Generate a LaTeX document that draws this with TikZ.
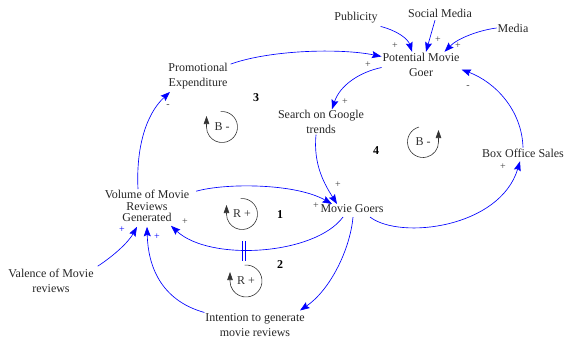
\documentclass[tikz,border=0pt]{standalone}
\usepackage{fontspec}
\setmainfont{Liberation Serif}
\usetikzlibrary{arrows.meta}
\begin{document}
\begin{tikzpicture}[x=1pt,y=-1pt,
  var/.style={inner sep=1pt, outer sep=0pt, align=center, text=black!85, font=\fontsize{12}{15}\selectfont},
  link/.style={draw=blue, line width=0.65pt, -{Stealth[length=9.5pt,width=7pt,inset=1.5pt]}},
  pol/.style={inner sep=0pt, text=black!75, font=\fontsize{10}{10}\selectfont},
  bpol/.style={pol, text=blue},
  loopl/.style={inner sep=0pt, text=black!80, font=\fontsize{12}{12}\selectfont},
  looparc/.style={draw=black!80, line width=0.6pt, -{Triangle[length=8pt,width=5.5pt]}},
  num/.style={inner sep=0pt, text=black, font=\fontsize{12}{12}\selectfont\bfseries},
  delaymark/.style={draw=blue, line width=0.6pt}
]
\useasboundingbox (0,0) rectangle (564,341);

% variables
\node[var] (pub) at (356,18) {Publicity};
\node[var] (soc) at (440,13) {Social Media};
\node[var] (med) at (513,28) {Media};
\node[var] (pmg) at (421,64.5) {Potential Movie\\Goer};
\node[var] (pe) at (198,76) {Promotional\\Expenditure};
\node[var] (sg) at (321,122) {Search on Google\\trends};
\node[var] (bos) at (523,153) {Box Office Sales};
\node[var, font=\fontsize{12}{11.5}\selectfont] (vol) at (147,206) {Volume of Movie\\Reviews\\Generated};
\node[var] (mg) at (352,209) {Movie Goers};
\node[var] (val) at (51,281) {Valence of Movie\\reviews};
\node[var] (int) at (255,325) {Intention to generate\\movie reviews};

% links
\draw[link] ([xshift=2pt,yshift=-2pt]pub.south east) .. controls (398,31) and (408,39) .. ([xshift=-9pt]pmg.north);
\draw[link] ([xshift=-5pt,yshift=-2pt]soc.south) -- ([xshift=5pt]pmg.north);
\draw[link] (med.west) .. controls (480,30) and (458,38) .. ([xshift=-16pt]pmg.north east);
\draw[link] ([xshift=2pt,yshift=-2pt]pe.north east) .. controls (270,50) and (340,48) .. ([yshift=8pt]pmg.west);
\draw[link] ([yshift=-3pt]pmg.west) .. controls (360,72) and (340,85) .. ([xshift=11pt]sg.north);
\draw[link] (bos.north) .. controls (522,110) and (495,82) .. ([xshift=1pt,yshift=-5pt]pmg.east);
\draw[link] ([xshift=-5pt]sg.south) .. controls (313,165) and (325,185) .. ([xshift=-15pt]mg.north);
\draw[link] ([xshift=6pt,yshift=-2pt]vol.north east) .. controls (225,183) and (295,183) .. ([xshift=-20pt]mg.north);
\draw[link] ([xshift=-9pt,yshift=-3pt]mg.south) .. controls (315,255) and (210,262) .. ([xshift=24pt,yshift=-3pt]vol.south);
\draw[link] ([xshift=18pt,yshift=-3pt]mg.south) .. controls (400,240) and (500,228) .. ([xshift=-3pt,yshift=-3pt]bos.south);
\draw[link] ([xshift=-9pt]vol.north) .. controls (136,150) and (145,115) .. ([xshift=-28pt,yshift=-2pt]pe.south);
\draw[link] ([xshift=1pt,yshift=-3pt]mg.south) .. controls (350,250) and (330,290) .. ([xshift=45pt,yshift=2pt]int.north);
\draw[link] (int.north west) .. controls (160,300) and (148,265) .. ([yshift=-4pt]vol.south);
\draw[link] ([xshift=3pt,yshift=2pt]val.north east) .. controls (112,257) and (128,243) .. ([xshift=-10pt,yshift=-4pt]vol.south);

% delay mark
\draw[delaymark] (242.5,241) -- (242.5,261);
\draw[delaymark] (245.5,241) -- (245.5,261);

% polarities
\node[pol] (p1) at (395,46) {+};
\node[pol] (p2) at (438,40) {+};
\node[pol] (p3) at (458,46) {+};
\node[pol] (p4) at (368,65) {+};
\node[pol] (p5) at (345,102) {+};
\node[pol] (p6) at (468,87) {-};
\node[pol] (p7) at (338,185) {+};
\node[pol] (p8) at (316,206) {+};
\node[pol] (p9) at (185,222) {+};
\node[pol] (p10) at (503,167) {+};
\node[pol] (p11) at (168,106) {-};
\node[bpol] (p12) at (122,230) {+};
\node[bpol] (p13) at (157,237) {+};

% loops
\node[loopl] (b3) at (222,127) {B -};
\draw[looparc] (b3.center) ++(95:15.5pt) arc[start angle=95, end angle=-180, radius=15.5pt] -- ++(0pt,11pt);
\node[loopl] (b4) at (423,142) {B -};
\draw[looparc] (b4.center) ++(105:15.5pt) arc[start angle=105, end angle=360, radius=15.5pt] -- ++(0pt,12pt);
\node[loopl] (r1) at (242,214) {R +};
\draw[looparc] (r1.center) ++(95:15.5pt) arc[start angle=95, end angle=-180, radius=15.5pt] -- ++(0pt,9pt);
\node[loopl] (r2) at (246,281) {R +};
\draw[looparc] (r2.center) ++(95:16pt) arc[start angle=95, end angle=-180, radius=16pt] -- ++(0pt,9pt);

% loop numbers
\node[num] (n1) at (280,215) {1};
\node[num] (n2) at (280,265) {2};
\node[num] (n3) at (256,98) {3};
\node[num] (n4) at (376,151) {4};
\end{tikzpicture}
\end{document}
